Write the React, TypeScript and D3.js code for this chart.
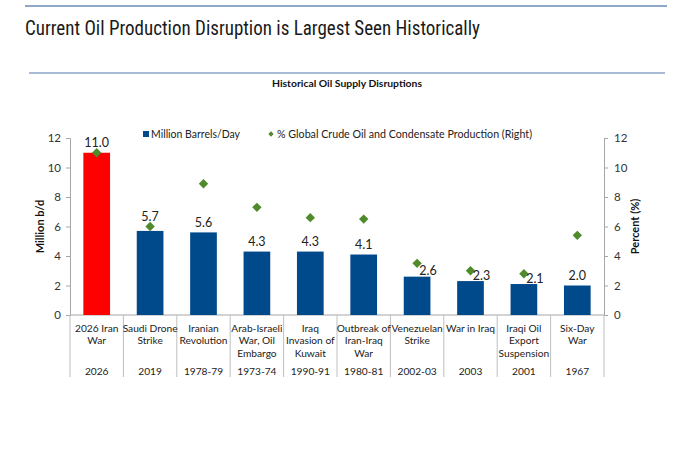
import React, { useEffect, useRef } from "react";
import * as d3 from "d3";

// chart data
const categories = [
  "2026 Iran|War",
  "Saudi Drone|Strike",
  "Iranian|Revolution",
  "Arab-Israeli|War, Oil|Embargo",
  "Iraq|Invasion of|Kuwait",
  "Outbreak of|Iran-Iraq|War",
  "Venezuelan|Strike",
  "War in Iraq",
  "Iraqi Oil|Export|Suspension",
  "Six-Day|War",
];
const years = ["2026", "2019", "1978-79", "1973-74", "1990-91", "1980-81", "2002-03", "2003", "2001", "1967"];
const millionBpd = [11.0, 5.7, 5.6, 4.3, 4.3, 4.1, 2.6, 2.3, 2.1, 2.0];
const pctGlobal = [11.0, 6.0, 8.9, 7.3, 6.6, 6.5, 3.5, 3.0, 2.8, 5.4];
const yTicks = [0, 2, 4, 6, 8, 10, 12];

const W = 680;
const H = 472;
const FONT = "Lato, 'Open Sans', sans-serif";

export default function App() {
  const ref = useRef<HTMLDivElement | null>(null);

  useEffect(() => {
    if (!ref.current) return;
    document.body.style.margin = "0";
    d3.select(ref.current).selectAll("svg").remove();

    const svg = d3
      .select(ref.current)
      .append("svg")
      .attr("width", W)
      .attr("height", H)
      .style("display", "block")
      .style("background", "#fff");

    const left = 70;
    const right = 604;
    const top = 138;
    const bottom = 315;

    const x = d3.scaleBand<number>().domain(d3.range(categories.length)).range([left, right]).paddingInner(0.5).paddingOuter(0.25);
    const band = d3.scaleBand<number>().domain(d3.range(categories.length)).range([left, right]);
    const y = d3.scaleLinear([0, 12], [bottom, top]);
    const yR = d3.scaleLinear([0, 12], [bottom, top]);

    // header rules + titles
    svg.append("line").attr("x1", 25).attr("x2", 667).attr("y1", 6).attr("y2", 6).attr("stroke", "#8FA8C8").attr("stroke-width", 2);
    svg.append("line").attr("x1", 29).attr("x2", 665).attr("y1", 73).attr("y2", 73).attr("stroke", "#A9BCD3").attr("stroke-width", 2);

    svg
      .append("text")
      .attr("x", 25)
      .attr("y", 35)
      .attr("font-family", "'Liberation Sans Narrow', 'Roboto Condensed', 'Liberation Sans', sans-serif")
      .attr("font-size", 20)
      .attr("fill", "#1a1a1a")
      .attr("textLength", 455)
      .attr("lengthAdjust", "spacingAndGlyphs")
      .text("Current Oil Production Disruption is Largest Seen Historically");

    svg
      .append("text")
      .attr("x", 347)
      .attr("y", 87)
      .attr("text-anchor", "middle")
      .attr("font-family", FONT)
      .attr("font-weight", "bold")
      .attr("font-size", 10)
      .attr("fill", "#111")
      .attr("textLength", 150)
      .attr("lengthAdjust", "spacingAndGlyphs")
      .text("Historical Oil Supply Disruptions");

    // axes
    const axL = svg
      .append("g")
      .attr("transform", `translate(${left},0)`)
      .call(d3.axisLeft(y).tickValues(yTicks).tickSize(4).tickPadding(5));
    const axR = svg
      .append("g")
      .attr("transform", `translate(${right},0)`)
      .call(d3.axisRight(yR).tickValues(yTicks).tickSize(4).tickPadding(6));
    [axL, axR].forEach((g) => {
      g.select(".domain").attr("stroke", "#A6A6A6");
      g.selectAll(".tick line").attr("stroke", "#A6A6A6");
      g.selectAll(".tick text").attr("font-family", FONT).attr("font-size", 11.5).attr("fill", "#333");
    });

    // x axis baseline and separators
    svg.append("line").attr("x1", left).attr("x2", right).attr("y1", bottom).attr("y2", bottom).attr("stroke", "#A6A6A6");
    const bounds = d3.range(categories.length + 1).map((i) => (i < categories.length ? band(i)! : right));
    svg
      .append("g")
      .selectAll("line")
      .data(bounds)
      .enter()
      .append("line")
      .attr("x1", (d) => d)
      .attr("x2", (d) => d)
      .attr("y1", bottom)
      .attr("y2", 377)
      .attr("stroke", "#BFBFBF");

    // axis titles
    svg
      .append("text")
      .attr("transform", `translate(44,${(top + bottom) / 2}) rotate(-90)`)
      .attr("text-anchor", "middle")
      .attr("font-family", FONT)
      .attr("font-weight", "bold")
      .attr("font-size", 11)
      .attr("fill", "#111")
      .text("Million b/d");
    svg
      .append("text")
      .attr("transform", `translate(639,${(top + bottom) / 2}) rotate(-90)`)
      .attr("text-anchor", "middle")
      .attr("font-family", FONT)
      .attr("font-weight", "bold")
      .attr("font-size", 11)
      .attr("fill", "#111")
      .text("Percent (%)");

    // bars
    svg
      .append("g")
      .selectAll("rect")
      .data(millionBpd)
      .enter()
      .append("rect")
      .attr("x", (d, i) => x(i)!)
      .attr("width", x.bandwidth())
      .attr("y", (d) => y(d))
      .attr("height", (d) => bottom - y(d))
      .attr("fill", (d, i) => (i === 0 ? "#FF0000" : "#004A8C"));

    // diamonds
    const diamond = d3.symbol(d3.symbolSquare, 44);
    svg
      .append("g")
      .selectAll("path")
      .data(pctGlobal)
      .enter()
      .append("path")
      .attr("d", diamond)
      .attr("transform", (d, i) => `translate(${x(i)! + x.bandwidth() / 2},${yR(d)}) rotate(45)`)
      .attr("fill", "#4F8A2B");

    // value labels
    svg
      .append("g")
      .selectAll("text")
      .data(millionBpd)
      .enter()
      .append("text")
      .attr("text-anchor", "middle")
      .attr("dominant-baseline", "central")
      .attr("font-family", FONT)
      .attr("font-size", 12.5)
      .attr("fill", "#222")
      .each(function (d, i) {
        const cx = x(i)! + x.bandwidth() / 2;
        const barTop = y(d);
        const gap = pctGlobal[i] - d;
        const near = gap >= 0 && gap < 1.2;
        let lx = cx;
        let ly = barTop - 10;
        if (near && d < 3) {
          lx = cx + 11;
          ly = barTop - 6;
        } else if (near) {
          ly = Math.min(barTop - 10, yR(pctGlobal[i]) - 10);
        }
        d3.select(this).attr("x", lx).attr("y", ly).text(d3.format(".1f")(d));
      });

    // category labels
    const catG = svg
      .append("g")
      .attr("font-family", FONT)
      .attr("font-size", 10.2)
      .attr("fill", "#222")
      .attr("text-anchor", "middle");
    categories.forEach((c, i) => {
      const cx = band(i)! + band.bandwidth() / 2;
      c.split("|").forEach((line, j) => {
        catG.append("text").attr("x", cx).attr("y", 332 + j * 12.4).text(line);
      });
      catG.append("text").attr("x", cx).attr("y", 375).text(years[i]);
    });

    // legend
    const lg = svg.append("g").attr("font-family", FONT).attr("font-size", 11).attr("fill", "#222");
    lg.append("rect").attr("x", 143).attr("y", 131).attr("width", 6).attr("height", 6).attr("fill", "#004A8C");
    lg.append("text").attr("x", 151).attr("y", 138).attr("textLength", 89).attr("lengthAdjust", "spacingAndGlyphs").text("Million Barrels/Day");
    lg.append("path").attr("d", d3.symbol(d3.symbolSquare, 14)).attr("transform", "translate(271,134) rotate(45)").attr("fill", "#4F8A2B");
    lg
      .append("text")
      .attr("x", 277)
      .attr("y", 138)
      .attr("textLength", 255)
      .attr("lengthAdjust", "spacingAndGlyphs")
      .text("% Global Crude Oil and Condensate Production (Right)");
  });

  return <div ref={ref}></div>;
}
